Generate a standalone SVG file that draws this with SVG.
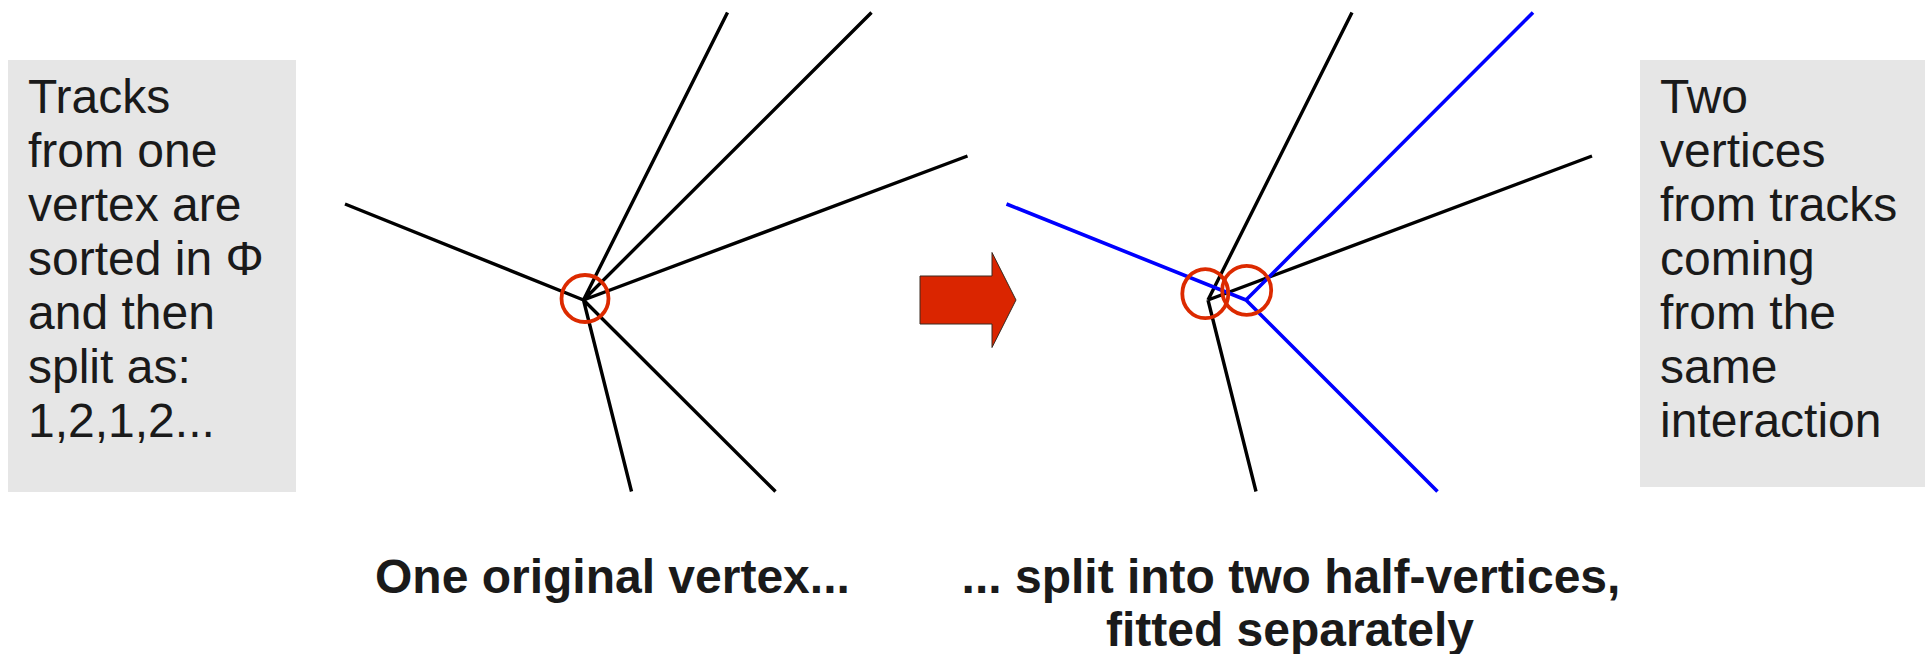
<svg xmlns="http://www.w3.org/2000/svg" width="1925" height="654" viewBox="0 0 1925 654">
<style>
.box{fill:#e6e6e6;}
.t{font-family:"Liberation Sans",Arial,sans-serif;font-size:48px;fill:#1a1a1a;}
.b{font-family:"Liberation Sans",Arial,sans-serif;font-size:48px;font-weight:bold;fill:#1a1a1a;}
.k{stroke:#000;stroke-width:3.4;fill:none;stroke-linecap:butt;}
.u{stroke:#0000ff;stroke-width:3.6;fill:none;}
.r{stroke:#dc2a00;stroke-width:3.8;fill:none;}
</style>
<rect width="1925" height="654" fill="#fff"/>
<g id="left-note">
<rect class="box" x="8" y="60" width="288" height="432"/>
<text class="t" x="28"><tspan x="28" y="113">Tracks</tspan><tspan x="28" y="167">from one</tspan><tspan x="28" y="221">vertex are</tspan><tspan x="28" y="275">sorted in Φ</tspan><tspan x="28" y="329">and then</tspan><tspan x="28" y="383">split as:</tspan><tspan x="28" y="437">1,2,1,2...</tspan></text>
</g>
<g id="right-note">
<rect class="box" x="1640" y="60" width="285" height="427"/>
<text class="t"><tspan x="1660" y="113">Two</tspan><tspan x="1660" y="167">vertices</tspan><tspan x="1660" y="221">from tracks</tspan><tspan x="1660" y="275">coming</tspan><tspan x="1660" y="329">from the</tspan><tspan x="1660" y="383">same</tspan><tspan x="1660" y="437">interaction</tspan></text>
</g>
<g id="original-vertex">
<path class="k" d="M345 204L583.5 300M727.5 12.5L583.5 300M871.5 12.5L583.5 300M967.5 156L583.5 300M631.5 491.5L583.5 300M775.5 491.5L583.5 300"/>
<circle class="r" cx="585" cy="298.5" r="23.5"/>
</g>
<g id="arrow">
<polygon points="920,276 992,276 992,252.5 1016,300 992,347.5 992,324 920,324" fill="#da2500" stroke="#3a2a20" stroke-width="1"/>
</g>
<g id="split-vertices">
<path class="k" d="M1352 12.5L1208 300M1592 156L1208 300M1256 491.5L1208 300"/>
<path class="u" d="M1006.5 204L1246 300M1533 12.5L1246 300M1437.5 491.5L1246 300"/>
<ellipse class="r" cx="1205.3" cy="293.7" rx="23" ry="24.5"/>
<ellipse class="r" cx="1246.7" cy="290.3" rx="24.5" ry="24.5"/>
</g>
<g id="captions">
<text class="b" x="375" y="593">One original vertex...</text>
<text class="b" text-anchor="middle"><tspan x="1291" y="593">... split into two half-vertices,</tspan><tspan x="1290" y="646">fitted separately</tspan></text>
</g>
</svg>
